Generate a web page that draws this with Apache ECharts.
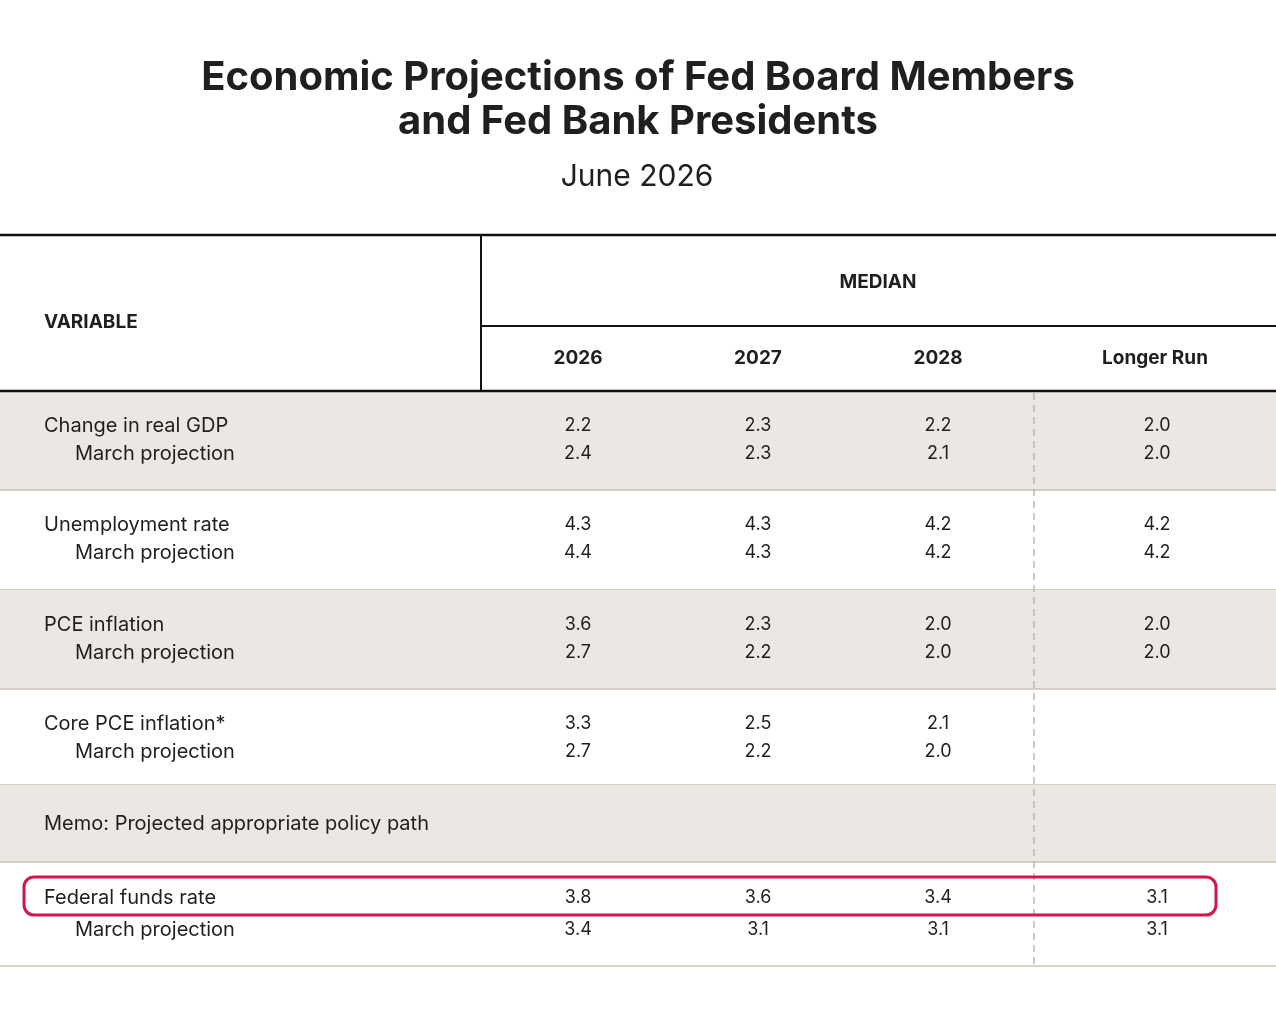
<!DOCTYPE html>
<html lang="en">
<head>
    <meta charset="UTF-8">
    <title>Economic Projections</title>
    <script src="https://cdn.jsdelivr.net/npm/echarts@6/dist/echarts.min.js"></script>
</head>
<style>
    html, body { height: 100%; margin: 0; background: #fff; }
</style>
<body>
<div id="main" style="width: 100%;height:100%"></div>
<script type="text/javascript">
    var columns = ['2026', '2027', '2028', 'Longer Run'];
    var variables = ['Change in real GDP', 'Unemployment rate', 'PCE inflation', 'Core PCE inflation*'];
    var currentVals = [['2.2', '2.3', '2.2', '2.0'], ['4.3', '4.3', '4.2', '4.2'], ['3.6', '2.3', '2.0', '2.0'], ['3.3', '2.5', '2.1', '']];
    var marchVals = [['2.4', '2.3', '2.1', '2.0'], ['4.4', '4.3', '4.2', '4.2'], ['2.7', '2.2', '2.0', '2.0'], ['2.7', '2.2', '2.0', '']];
    var memoLabel = 'Memo: Projected appropriate policy path';
    var fedLabel = 'Federal funds rate';
    var fedVals = ['3.8', '3.6', '3.4', '3.1'];
    var fedMarch = ['3.4', '3.1', '3.1', '3.1'];

    var colX = [578, 758, 938, 1157];
    var font = 'Inter, "Noto Sans", sans-serif';
    var ink = '#1f1f1f';
    var shade = '#ebe7e3';
    var rule = '#cbc2b6';

    var myChart = echarts.init(document.getElementById('main'));
    var g = [];

    function txt(x, y, s, size, weight, align) {
        g.push({type: 'text', x: x, y: y, style: {text: s, font: (weight || 'normal') + ' ' + size + 'px ' + font, fill: ink, textAlign: align || 'left', textVerticalAlign: 'middle'}});
    }
    function line(x1, y1, x2, y2, color, w, dash) {
        g.push({type: 'line', shape: {x1: x1, y1: y1, x2: x2, y2: y2}, style: {stroke: color, lineWidth: w, lineDash: dash || null}});
    }
    function band(y1, y2, fill) {
        if (fill) g.push({type: 'rect', shape: {x: 0, y: y1, width: 1276, height: y2 - y1}, style: {fill: fill}});
        line(0, y2, 1276, y2, rule, 1.5);
    }

    // header
    txt(638, 78, 'Economic Projections of Fed Board Members', 40, 'bold', 'center');
    txt(638, 122, 'and Fed Bank Presidents', 40, 'bold', 'center');
    txt(637, 177, 'June 2026', 30, 'normal', 'center');

    // row bands
    var bounds = [391, 490, 590, 689, 785];
    for (var i = 0; i < variables.length; i++) {
        band(bounds[i], bounds[i + 1], i % 2 === 0 ? shade : null);
        var y = bounds[i] + 35;
        txt(44, y, variables[i], 20);
        txt(75, y + 28, 'March projection', 20);
        for (var j = 0; j < columns.length; j++) {
            txt(colX[j], y, currentVals[i][j], 18, 'normal', 'center');
            txt(colX[j], y + 28, marchVals[i][j], 18, 'normal', 'center');
        }
    }
    band(785, 862, shade);
    txt(44, 824, memoLabel, 20);
    band(862, 966, null);
    txt(44, 898, fedLabel, 20);
    txt(75, 930, 'March projection', 20);
    for (var k = 0; k < columns.length; k++) {
        txt(colX[k], 898, fedVals[k], 18, 'normal', 'center');
        txt(colX[k], 930, fedMarch[k], 18, 'normal', 'center');
    }

    // column header lines
    line(0, 235, 1276, 235, '#111', 2.5);
    line(481, 235, 481, 391, '#111', 2);
    line(481, 326, 1276, 326, '#111', 2);
    line(0, 391, 1276, 391, '#111', 2.5);
    txt(878, 282, 'MEDIAN', 19, 'bold', 'center');
    txt(44, 322, 'VARIABLE', 19, 'bold');
    for (var c = 0; c < columns.length; c++) txt(colX[c] - (c === 3 ? 2 : 0), 358, columns[c], 19, 'bold', 'center');

    // dashed divider before longer run
    line(1034, 393, 1034, 966, '#aaa', 1.2, [7, 5]);

    // highlight
    g.push({type: 'rect', shape: {x: 24, y: 877, width: 1192, height: 38, r: 10}, style: {fill: null, stroke: '#d0164a', lineWidth: 3}});

    myChart.setOption({backgroundColor: '#fff', graphic: {elements: g}});
</script>
</body>
</html>
